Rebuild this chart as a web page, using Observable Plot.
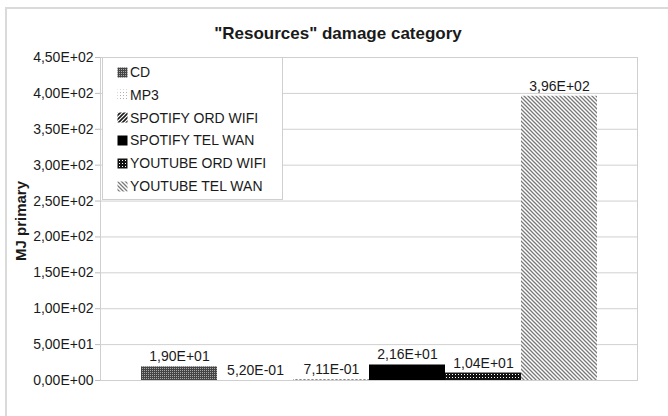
<!DOCTYPE html>
<html>
<head>
<meta charset="utf-8">
<script src="https://cdn.jsdelivr.net/npm/d3@7"></script>
<script src="https://cdn.jsdelivr.net/npm/@observablehq/plot@0.6"></script>
<style>
  html, body { margin: 0; padding: 0; background: #fff; }
  body { width: 668px; height: 416px; position: relative; overflow: hidden;
         font-family: "Liberation Sans", Arial, sans-serif; color: #1a1a1a; }
  #outer { position: absolute; left: 5px; top: 7px; width: 700px; height: 440px;
           border: 2px solid #dadada; box-sizing: border-box; }
  #chart { position: absolute; left: 0; top: 0; }
  #chart svg g[aria-label="y-axis tick label"],
  #chart svg g[aria-label="y-axis tick label"] text { font-size: 14px !important; }
  #title { position: absolute; left: 0; top: 24px; width: 676px; text-align: center;
           font-weight: bold; font-size: 17px; line-height: 20px; }
  #legend { position: absolute; left: 102px; top: 57px; width: 181px; height: 143px;
            background: #fff; border: 1px solid #cfcfcf; box-sizing: border-box; }
  .item { position: absolute; left: 14px; height: 20px; display: flex; align-items: center;
          font-size: 14px; white-space: nowrap; }
  .item svg { margin-right: 2px; }
</style>
</head>
<body>
<svg width="0" height="0" style="position:absolute">
  <defs>
    <pattern id="pat-cd" width="2" height="2" patternUnits="userSpaceOnUse">
      <rect width="2" height="2" fill="#454545"/>
      <rect width="1" height="1" fill="#a8a8a8"/>
    </pattern>
    <pattern id="pat-mp3" width="3" height="3" patternUnits="userSpaceOnUse">
      <rect width="3" height="3" fill="#fff"/>
      <rect width="1" height="1" fill="#b0b0b0"/>
    </pattern>
    <pattern id="pat-sow" width="4" height="4" patternUnits="userSpaceOnUse">
      <rect width="4" height="4" fill="#fff"/>
      <path d="M-1,1 l2,-2 M0,4 l4,-4 M3,5 l2,-2" stroke="#1a1a1a" stroke-width="1.6"/>
    </pattern>
    <pattern id="pat-stw" width="4" height="4" patternUnits="userSpaceOnUse">
      <rect width="4" height="4" fill="#000"/>
    </pattern>
    <pattern id="pat-yow" width="3" height="3" patternUnits="userSpaceOnUse">
      <rect width="3" height="3" fill="#111"/>
      <rect x="2" y="2" width="1" height="1" fill="#fff"/>
    </pattern>
    <pattern id="pat-ytw" width="4" height="4" patternUnits="userSpaceOnUse">
      <rect width="4" height="4" fill="#fff"/>
      <path d="M0,0 l4,4 M-1,3 l2,2 M3,-1 l2,2" stroke="#7a7a7a" stroke-width="1.3"/>
    </pattern>
  </defs>
</svg>
<div id="outer"></div>
<div id="chart"></div>
<div id="title">"Resources" damage category</div>
<div id="legend"></div>
<script>
// Scenario names, their "Resources" damage scores (MJ primary) and fill patterns
const categories = ["CD", "MP3", "SPOTIFY ORD WIFI", "SPOTIFY TEL WAN", "YOUTUBE ORD WIFI", "YOUTUBE TEL WAN"];
const values = [19.0, 0.52, 0.711, 21.6, 10.4, 396];
const patterns = ["pat-cd", "pat-mp3", "pat-sow", "pat-stw", "pat-yow", "pat-ytw"];
const yTicks = [0, 50, 100, 150, 200, 250, 300, 350, 400, 450];

// Scientific notation with a decimal comma, e.g. 3,96E+02
function sci(d) {
  if (d === 0) return "0,00E+00";
  let e = Math.floor(Math.log10(Math.abs(d)));
  let m = d / Math.pow(10, e);
  if (Math.abs(m) >= 9.995) { m /= 10; e += 1; }
  return m.toFixed(2).replace(".", ",") + "E" + (e < 0 ? "-" : "+") + String(Math.abs(e)).padStart(2, "0");
}

const rows = categories.map((c, i) => ({category: c, value: values[i], fill: `url(#${patterns[i]})`}));

const chart = Plot.plot({
  width: 668,
  height: 416,
  marginLeft: 100,
  marginRight: 31,
  marginTop: 57,
  marginBottom: 36,
  style: {fontFamily: "'Liberation Sans', Arial, sans-serif", color: "#1a1a1a", background: "transparent"},
  x: {domain: categories, paddingInner: 0, paddingOuter: 0.5, axis: null},
  y: {domain: [0, 450]},
  color: {type: "identity"},
  marks: [
    Plot.gridY(yTicks, {stroke: "#d0d0d0", strokeOpacity: 1}),
    Plot.frame({stroke: "#cfcfcf"}),
    Plot.axisY({ticks: yTicks, tickFormat: sci, tickSize: 5, tickPadding: 2, fontSize: 14,
                stroke: "#bcbcbc", fill: "#1a1a1a", label: null}),
    Plot.barY(rows, {x: "category", y: "value", fill: "fill"}),
    Plot.text(rows, {x: "category", y: "value", text: d => sci(d.value), dy: -10,
                     fontSize: 14, fill: "#1a1a1a"}),
    Plot.text(["MJ primary"], {frameAnchor: "left", textAnchor: "middle", rotate: -90, dx: -79, dy: 2,
                               fontSize: 15, fontWeight: "bold", fill: "#1a1a1a"})
  ]
});
document.getElementById("chart").appendChild(chart);

// Legend: one swatch per scenario, stacked top to bottom
const legend = document.getElementById("legend");
categories.forEach((c, i) => {
  const item = document.createElement("div");
  item.className = "item";
  item.style.top = (4 + i * 22.8) + "px";
  item.innerHTML = `<svg width="11" height="11"><rect width="10" height="10" x="0.5" y="0.5" fill="url(#${patterns[i]})"/></svg><span>${c}</span>`;
  legend.appendChild(item);
});
</script>
</body>
</html>
